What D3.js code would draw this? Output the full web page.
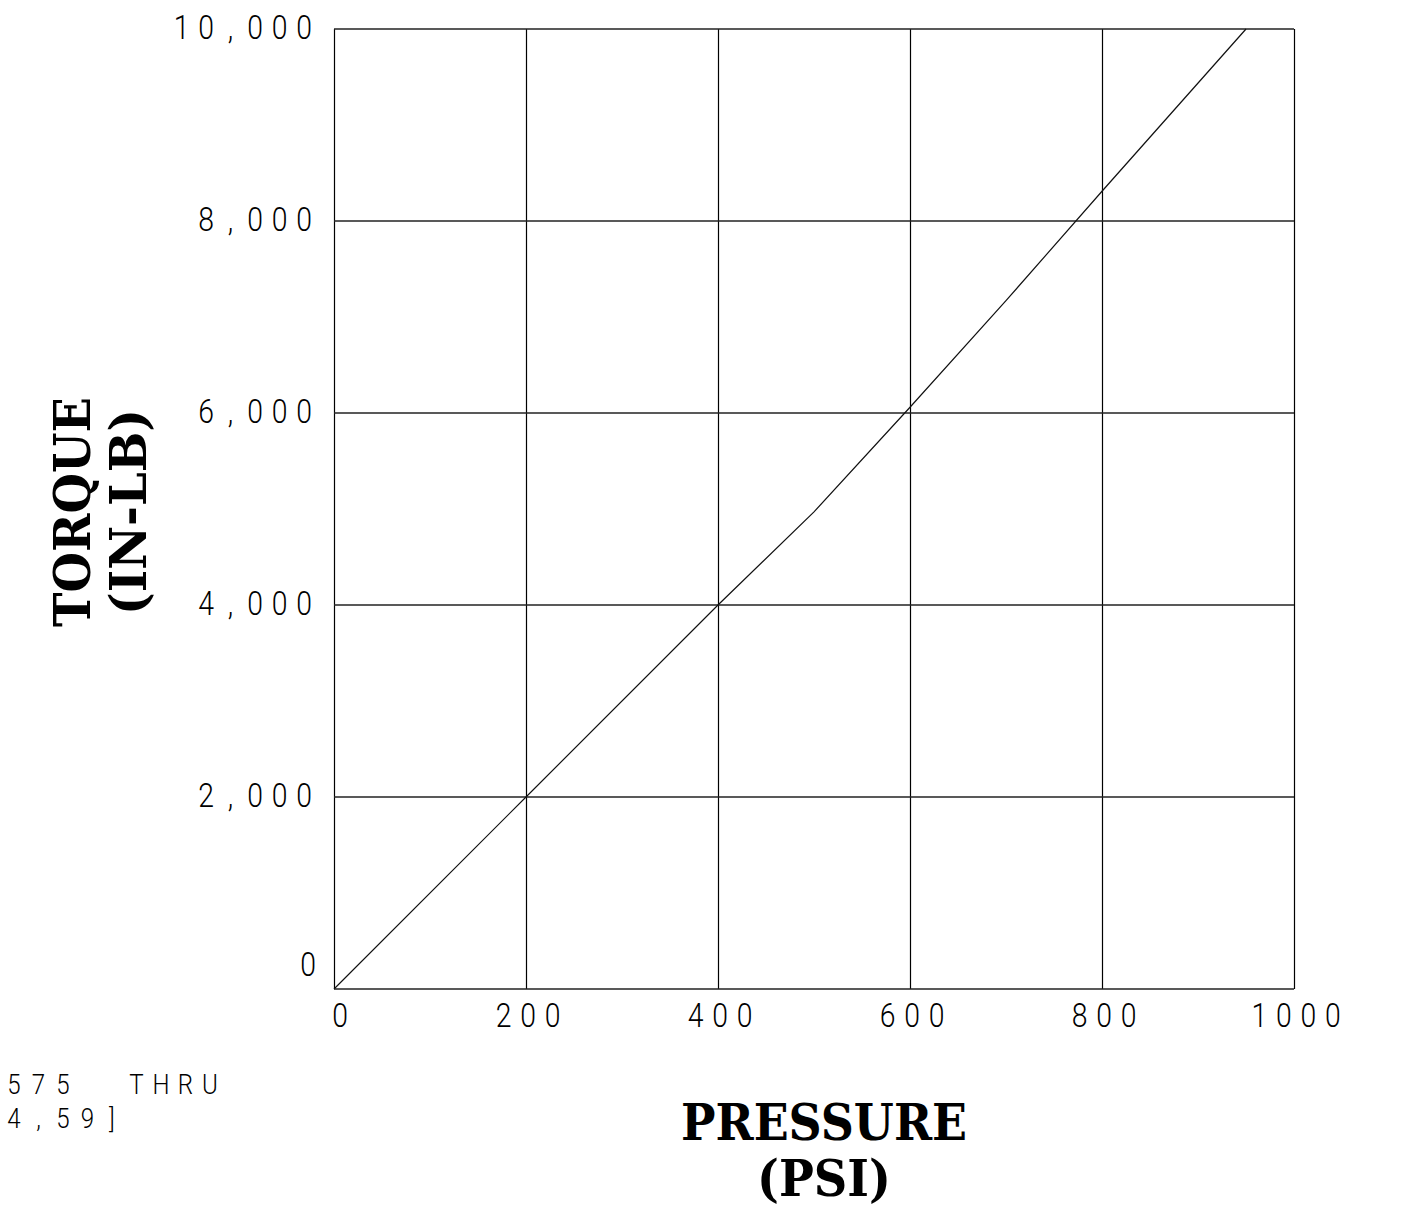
<!DOCTYPE html>
<html>
<head>
<meta charset="utf-8">
<script src="https://cdn.jsdelivr.net/npm/d3@7/dist/d3.min.js"></script>
<style>
  html, body { margin: 0; padding: 0; background: #fff; }
  svg { display: block; }
  .mono { font-family: Roboto, "DejaVu Sans", sans-serif; font-weight: 300; font-size: 33px; fill: #000; }
  .mono.small { font-size: 28px; }
  .title { font-family: "DejaVu Serif", "Liberation Serif", serif; font-weight: bold; font-size: 50px; fill: #000; }
</style>
</head>
<body>
<svg id="chart" width="1417" height="1214"></svg>
<script>
// ---- data ----
const pressure = [0, 200, 400, 500, 600, 700, 800, 950];
const torque   = [0, 2000, 4000, 4970, 6060, 7170, 8310, 10000];
const xTicks = [0, 200, 400, 600, 800, 1000];
const yTicks = [0, 2000, 4000, 6000, 8000, 10000];
const xTitle = ["PRESSURE", "(PSI)"];
const yTitle = ["TORQUE", "(IN-LB)"];
const noteLines = ["575  THRU", "4,59]"];

const svg = d3.select("#chart");
const plot = { left: 334, right: 1294, top: 29, bottom: 989 };

const x = d3.scaleLinear().domain([0, 1000]).range([plot.left, plot.right]);
const y = d3.scaleLinear().domain([0, 10000]).range([plot.bottom, plot.top]);

// grid lines
const g = svg.append("g");
g.selectAll("line.vg").data(xTicks).join("line")
  .attr("x1", d => Math.round(x(d)) + 0.5).attr("x2", d => Math.round(x(d)) + 0.5)
  .attr("y1", plot.top).attr("y2", plot.bottom)
  .attr("stroke", "#000").attr("stroke-width", 1.2);
g.selectAll("line.hg").data(yTicks).join("line")
  .attr("y1", d => y(d)).attr("y2", d => y(d))
  .attr("x1", plot.left).attr("x2", plot.right)
  .attr("stroke", "#222").attr("stroke-width", 1.4);

// data line
const line = d3.line().x((d, i) => x(pressure[i])).y((d, i) => y(torque[i]));
svg.append("path").datum(torque)
  .attr("d", line)
  .attr("fill", "none").attr("stroke", "#111").attr("stroke-width", 1.2);

const fmt = d3.format(",");
const PITCH = 24.5;

// plotter-style monospaced text: each character on a fixed pitch
function monoText(parent, str, firstCx, baseline, cls) {
  const chars = str.split("");
  const grp = parent.append("g");
  grp.selectAll("text").data(chars).join("text")
    .attr("class", cls || "mono")
    .attr("text-anchor", "middle")
    .attr("transform", (c, i) => `translate(${firstCx + i * PITCH},${baseline}) scale(0.86,1)`)
    .text(c => c);
  return grp;
}

// y tick labels (right aligned)
const yl = svg.append("g");
yTicks.forEach(d => {
  const s = fmt(d);
  const lastCx = d === 0 ? 308 : 304;
  const base = y(d) + (d === 0 ? -13 : 10);
  monoText(yl, s, lastCx - (s.length - 1) * PITCH, base);
});

// x tick labels (centred)
const xl = svg.append("g");
xTicks.forEach(d => {
  const s = String(d);
  const mid = d === 0 ? x(d) + 6 : x(d) + 2;
  monoText(xl, s, mid - (s.length - 1) * PITCH / 2, plot.bottom + 38);
});

// x axis title
svg.append("g").selectAll("text").data(xTitle).join("text")
  .attr("class", "title")
  .attr("text-anchor", "middle")
  .attr("x", 824)
  .attr("y", (d, i) => 1140 + i * 56)
  .attr("textLength", (d, i) => i === 0 ? 286 : 134)
  .attr("lengthAdjust", "spacingAndGlyphs")
  .text(d => d);

// y axis title (rotated)
const yt = svg.append("g").attr("transform", "translate(0,512) rotate(-90)");
yt.selectAll("text").data(yTitle).join("text")
  .attr("class", "title")
  .attr("text-anchor", "middle")
  .attr("x", 0)
  .attr("y", (d, i) => 90 + i * 56)
  .attr("textLength", (d, i) => i === 0 ? 230 : 206)
  .attr("lengthAdjust", "spacingAndGlyphs")
  .text(d => d);

// bottom-left note
const nt = svg.append("g");
noteLines.forEach((s, i) => monoText(nt, s, 14, 1094 + i * 34, "mono small"));
</script>
</body>
</html>
